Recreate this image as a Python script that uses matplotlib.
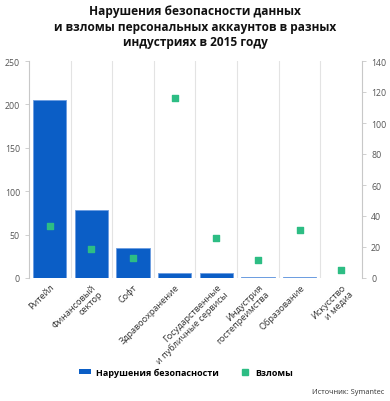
import numpy as np
import matplotlib.pyplot as plt
from matplotlib.patches import Patch
from matplotlib.lines import Line2D

plt.rcParams['font.family'] = ['Open Sans', 'DejaVu Sans']

industries = ['Ритейл', 'Финансовый\nсектор', 'Софт', 'Здравоохранение',
              'Государственные\nи публичные сервисы', 'Индустрия\nгостепреимства',
              'Образование', 'Искусство\nи медиа']
breaches = [205, 78.5, 34.6, 6, 6, 1.5, 1, 0.5]
hacks = [33.7, 18.5, 12.7, 116, 25.8, 11.8, 30.8, 5.4]

bar_color = '#0b5ec6'
dot_color = '#2dbd84'

fig = plt.figure(figsize=(3.9, 4.02), dpi=100)
ax = fig.add_axes([29 / 390, 1 - 279 / 402, 333 / 390, 217 / 402])
ax2 = ax.twinx()

x = np.arange(len(industries))
ax.bar(x, breaches, width=0.8, color=bar_color, edgecolor='#6a9be0', linewidth=0.6, zorder=2)
ax2.scatter(x, hacks, marker='s', s=20, color=dot_color, zorder=3)

ax.set_xlim(-0.5, len(industries) - 0.5)
ax.set_ylim(0, 250)
ax2.set_ylim(0, 140)
ax.set_yticks([0, 50, 100, 150, 200, 250])
ax2.set_yticks(range(0, 141, 20))

for b in np.arange(0.5, len(industries) - 0.5, 1):
    ax.axvline(b, color='#e3e3e3', linewidth=0.8, zorder=0)

for a in (ax, ax2):
    for s in ('top', 'bottom'):
        a.spines[s].set_visible(False)
    a.spines['left'].set_color('#c8c8c8')
    a.spines['right'].set_color('#c8c8c8')
    a.tick_params(axis='y', labelsize=6.3, labelcolor='#555555', color='#c8c8c8', length=3, width=0.6)
ax.spines['right'].set_visible(False)
ax2.spines['left'].set_visible(False)

ax.set_xticks(x)
ax.set_xticklabels(industries, rotation=45, ha='right', rotation_mode='anchor',
                   fontsize=6.6, color='#333333', linespacing=1.1)
ax.tick_params(axis='x', length=0, pad=3)

fig.text(0.5, 1 - 5 / 402, 'Нарушения безопасности данных\nи взломы персональных аккаунтов в разных\nиндустриях в 2015 году',
         ha='center', va='top', fontsize=8.6, fontweight='bold', color='#111111', linespacing=1.25)

handles = [Patch(facecolor=bar_color, edgecolor='none'),
           Line2D([], [], marker='s', linestyle='none', color=dot_color, markersize=4.5)]
fig.legend(handles, ['Нарушения безопасности', 'Взломы'], loc='center', bbox_to_anchor=(186 / 390, 1 - 373 / 402),
           ncol=2, frameon=False, prop={'size': 6.5, 'weight': 'bold'}, columnspacing=2.2,
           handlelength=1.4, handleheight=0.6, handletextpad=0.5)

fig.text(0.985, 1 - 393 / 402, 'Источник: Symantec', ha='right', va='center', fontsize=5.3, color='#333333')

fig.savefig('out.png', dpi=100)
